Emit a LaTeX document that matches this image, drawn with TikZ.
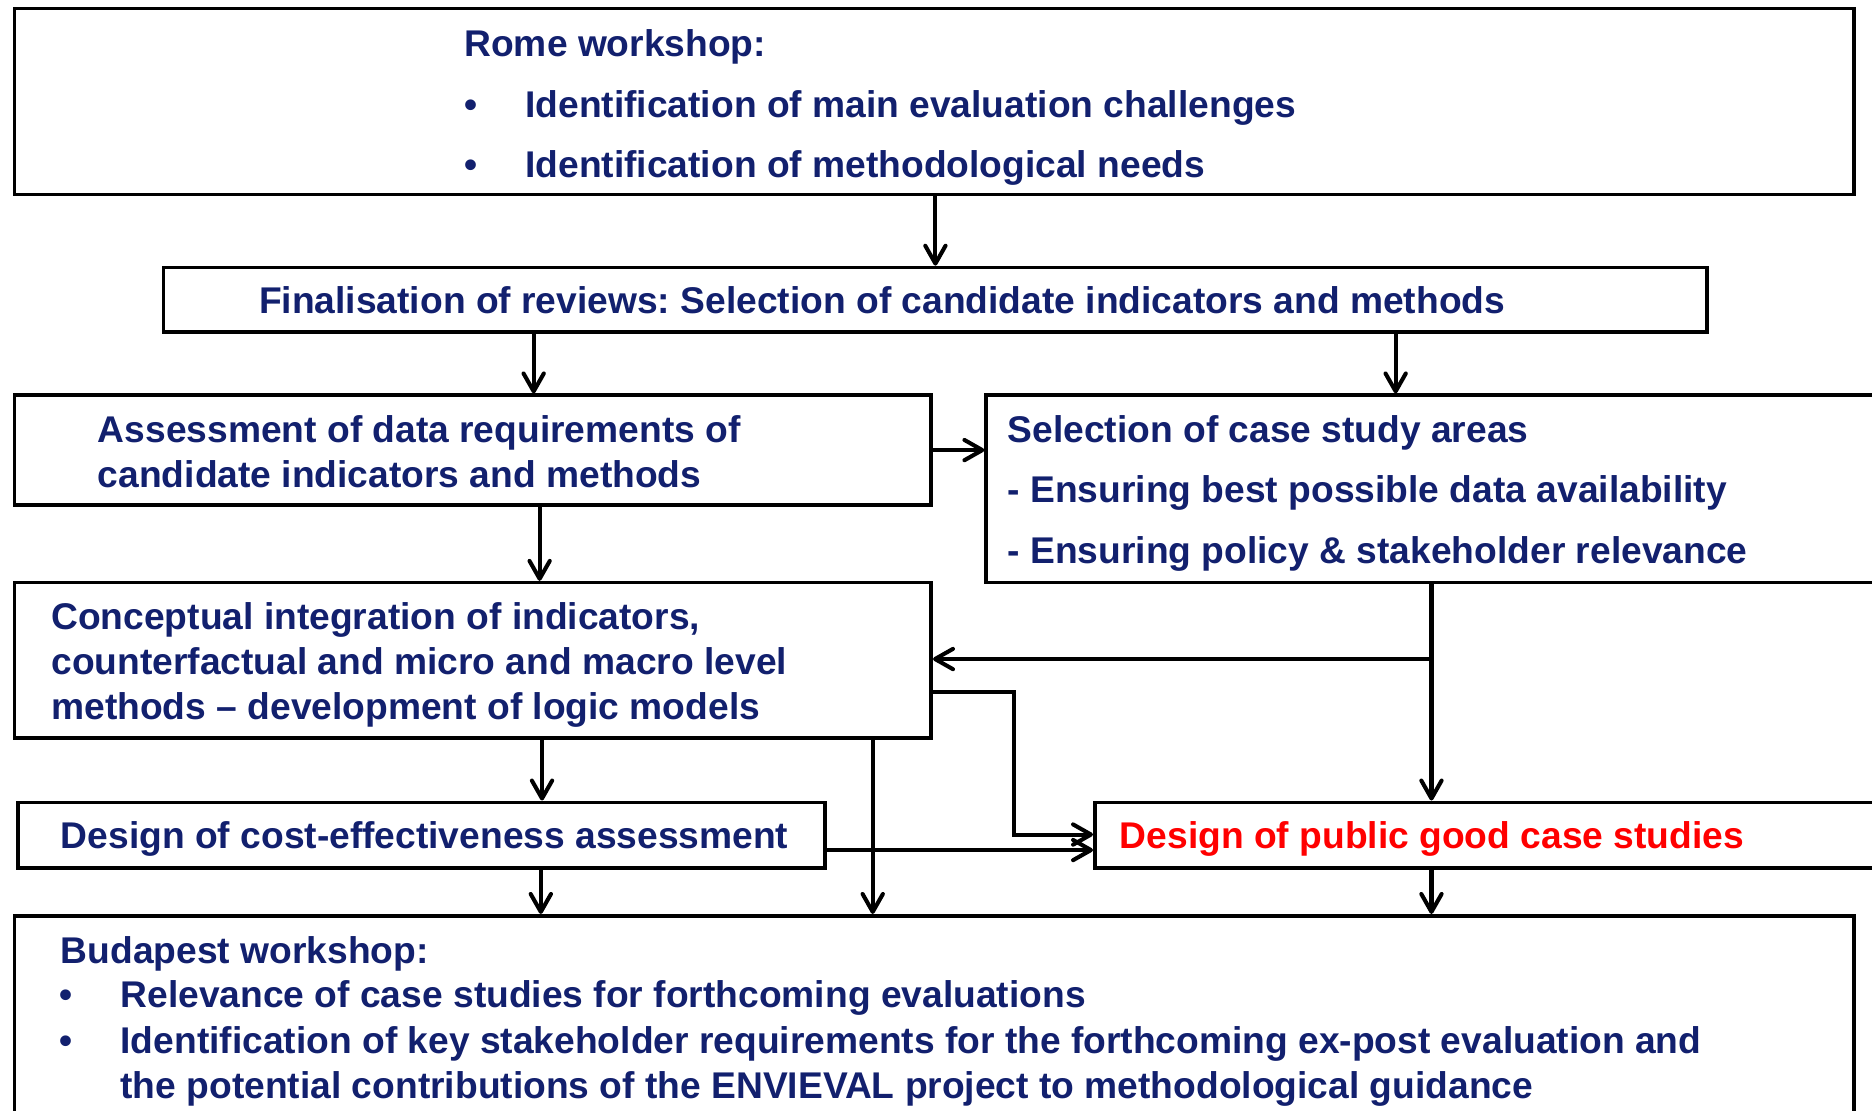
\documentclass[tikz,border=0pt]{standalone}
\usepackage{fontspec}
\setmainfont{Liberation Sans}
\usetikzlibrary{arrows.meta,fit}
\definecolor{navy}{RGB}{18,32,110}
\definecolor{redtxt}{RGB}{255,0,0}
\frenchspacing
\tikzset{
  box/.style={draw=black, line width=3pt, inner sep=0pt, fill=none},
  txt/.style={anchor=base west, inner sep=0pt, outer sep=0pt, text=navy,
              font=\fontsize{31.15}{38}\selectfont\bfseries},
  arr/.style={draw=black, line width=3.4pt,
              -{Straight Barb[length=15pt,width=17pt,round]}},
}
\begin{document}
\begin{tikzpicture}[x=1pt,y=-1pt]
\useasboundingbox (0,0) rectangle (1568,930);
\clip (0,0) rectangle (1568,930);
% boxes
\node[box, fit={(12,7) (1553,163)}] (rome) {};
\node[box, fit={(137,224) (1430,278)}] (fin) {};
\node[box, fit={(12,331) (780,423)}] (assess) {};
\node[box, fit={(826,331) (1610,488)}] (sel) {};
\node[box, fit={(12,488) (780,618)}] (concept) {};
\node[box, fit={(15,672) (691,727)}] (cost) {};
\node[box, fit={(917,672) (1610,727)}] (pub) {};
\node[box, fit={(12,767) (1553,980)}] (buda) {};
% texts
\node[txt] (t1) at (389,47) {Rome workshop:};
\node[txt] (b1) at (389,98) {\textbullet};
\node[txt] (t2) at (440,98) {Identification of main evaluation challenges};
\node[txt] (b2) at (389,149) {\textbullet};
\node[txt] (t3) at (440,149) {Identification of methodological needs};
\node[txt] (t4) at (217,263) {Finalisation of reviews: Selection of candidate indicators and methods};
\node[txt] (t5) at (82,371) {Assessment of data requirements of};
\node[txt] (t6) at (82,408) {candidate indicators and methods};
\node[txt] (t7) at (844,371) {Selection of case study areas};
\node[txt] (t8) at (844,421) {- Ensuring best possible data availability};
\node[txt] (t9) at (844,472) {- Ensuring policy \& stakeholder relevance};
\node[txt] (t10) at (43,527) {Conceptual integration of indicators,};
\node[txt] (t11) at (43,565) {counterfactual and micro and macro level};
\node[txt] (t12) at (43,603) {methods \textendash{} development of logic models};
\node[txt] (t13) at (51,711) {Design of cost-effectiveness assessment};
\node[txt, text=redtxt] (t14) at (938,711) {Design of public good case studies};
\node[txt] (t15) at (51,807) {Budapest workshop:};
\node[txt] (b3) at (50,844) {\textbullet};
\node[txt] (t16) at (101,844) {Relevance of case studies for forthcoming evaluations};
\node[txt] (b4) at (50,882) {\textbullet};
\node[txt] (t17) at (101,882) {Identification of key stakeholder requirements for the forthcoming ex-post evaluation and};
\node[txt] (t18) at (101,920) {the potential contributions of the ENVIEVAL project to methodological guidance};
% helper positions
\coordinate (xA) at (447,0);
\coordinate (xB) at (1169,0);
\coordinate (xC) at (452,0);
\coordinate (xD) at (1199,0);
\coordinate (xE) at (454,0);
\coordinate (xF) at (731,0);
\coordinate (xG) at (453,0);
\coordinate (xK) at (849,0);
\coordinate (yA) at (0,377);
\coordinate (yB) at (0,552);
\coordinate (yC) at (0,580);
\coordinate (yD) at (0,699);
\coordinate (yE) at (0,712);
% connectors
\draw[arr] (rome.south -| fin.north) -- (fin.north);
\draw[arr] (xA |- fin.south) -- (xA |- assess.north);
\draw[arr] (xB |- fin.south) -- (xB |- sel.north);
\draw[arr] (assess.east |- yA) -- (sel.west |- yA);
\draw[arr] (xC |- assess.south) -- (xC |- concept.north);
\draw[arr] (xD |- sel.south) -- (xD |- pub.north);
\draw[arr] (xD |- yB) -- (concept.east |- yB);
\draw[arr] (concept.east |- yC) -- (xK |- yC) -- (xK |- yD) -- (pub.west |- yD);
\draw[arr] (cost.east |- yE) -- (pub.west |- yE);
\draw[arr] (xE |- concept.south) -- (xE |- cost.north);
\draw[arr] (xF |- concept.south) -- (xF |- buda.north);
\draw[arr] (xG |- cost.south) -- (xG |- buda.north);
\draw[arr] (xD |- pub.south) -- (xD |- buda.north);
\end{tikzpicture}
\end{document}
